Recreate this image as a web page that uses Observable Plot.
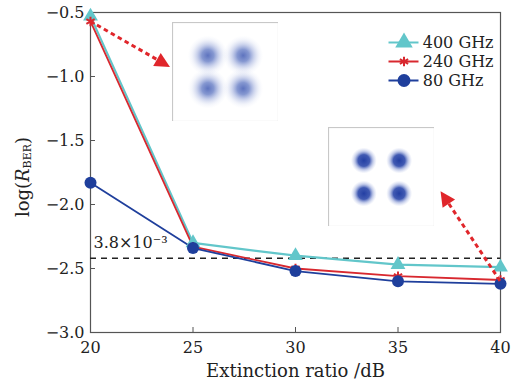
<!DOCTYPE html>
<html><head><meta charset="utf-8">
<script src="https://cdn.jsdelivr.net/npm/d3@7"></script>
<script src="https://cdn.jsdelivr.net/npm/@observablehq/plot@0.6"></script>
<style>
body{margin:0;background:#fff;}
#wrap{position:relative;width:513px;height:383px;font-family:"DejaVu Serif",serif;}
.ov{position:absolute;}
</style></head><body><div id="wrap"></div>
<script>
// ---- data ----
const ratio = [20, 25, 30, 35, 40];
const series = ["400 GHz", "240 GHz", "80 GHz"];
const ber400 = [-0.53, -2.30, -2.40, -2.47, -2.49];
const ber240 = [-0.57, -2.33, -2.50, -2.56, -2.59];
const ber80  = [-1.83, -2.34, -2.52, -2.60, -2.62];
const threshold = Math.log10(3.8e-3);
const thresholdLabel = "3.8×10⁻³";
const xTicks = [20, 25, 30, 35, 40];
const yTicks = [-3.0, -2.5, -2.0, -1.5, -1.0, -0.5];
const colors = ["#62c6ca", "#d8282f", "#1f3f9c"];
const symbols = ["triangle", "asterisk", "circle"];
// annotation arrows (data units): from measured point to arrow tip near inset
const arrowFromX = [20, 40];
const arrowFromY = [-0.57, -2.60];
const arrowToX = [23.9, 37.1];
const arrowToY = [-0.93, -1.90];
// constellation cluster centres (I/Q)
const constI = [-1, 1, -1, 1];
const constQ = [1, 1, -1, -1];

const values = [ber400, ber240, ber80];
const rows = [];
values.forEach((arr, i) => arr.forEach((v, j) => rows.push({series: series[i], x: ratio[j], y: v})));
const arrows = arrowFromX.map((_, i) => ({x1: arrowFromX[i], y1: arrowFromY[i], x2: arrowToX[i], y2: arrowToY[i]}));

const wrap = document.getElementById("wrap");
const arrowColor = "#e0262b";

const main = Plot.plot({
  width: 513, height: 383,
  marginLeft: 90, marginRight: 13, marginTop: 12, marginBottom: 51,
  style: {fontFamily: "DejaVu Serif, serif", fontSize: "16px", color: "#222", background: "transparent"},
  x: {domain: [20, 40], label: null},
  y: {domain: [-3, -0.5], label: null},
  marks: [
    Plot.axisX({ticks: xTicks, tickSize: 0, tickPadding: 9, fontSize: 16}),
    Plot.axisX({ticks: xTicks, tickSize: -5, text: null, stroke: "#555"}),
    Plot.axisY({ticks: yTicks, tickSize: 0, tickPadding: 6, tickFormat: d3.format(".1f"), fontSize: 16}),
    Plot.axisY({ticks: yTicks, tickSize: -5, text: null, stroke: "#555"}),
    Plot.frame({stroke: "#555", strokeWidth: 1.2}),
    Plot.ruleY([threshold], {stroke: "#222", strokeWidth: 1.6, strokeDasharray: "6,5"}),
    Plot.text([thresholdLabel], {frameAnchor: "left", y: [threshold], text: d => d, textAnchor: "start", dx: 3, dy: -15, fontSize: 16}),
    Plot.line(rows.filter(d => d.series === series[0]), {x: "x", y: "y", stroke: colors[0], strokeWidth: 2.2}),
    Plot.line(rows.filter(d => d.series === series[1]), {x: "x", y: "y", stroke: colors[1], strokeWidth: 1.8}),
    Plot.line(rows.filter(d => d.series === series[2]), {x: "x", y: "y", stroke: colors[2], strokeWidth: 1.8}),
    Plot.dot(rows.filter(d => d.series === series[0]), {x: "x", y: "y", symbol: symbols[0], fill: colors[0], r: 5.5}),
    Plot.dot(rows.filter(d => d.series === series[1]), {x: "x", y: "y", symbol: symbols[1], stroke: colors[1], strokeWidth: 2, r: 4.5}),
    Plot.dot(rows.filter(d => d.series === series[2]), {x: "x", y: "y", symbol: symbols[2], fill: colors[2], r: 6}),
    // dashed arrows with filled triangular heads, positioned through the plot scales
    (index, scales) => {
      const g = d3.create("svg:g");
      arrows.forEach(a => {
        const x1 = scales.x(a.x1), y1 = scales.y(a.y1), x2 = scales.x(a.x2), y2 = scales.y(a.y2);
        const L = Math.hypot(x2 - x1, y2 - y1), ux = (x2 - x1) / L, uy = (y2 - y1) / L;
        const len = 15, hw = 7.5;
        const bx = x2 - ux * len, by = y2 - uy * len;
        g.append("line").attr("x1", x1).attr("y1", y1).attr("x2", bx + ux * 2).attr("y2", by + uy * 2)
          .attr("stroke", arrowColor).attr("stroke-width", 3).attr("stroke-dasharray", "4.5,3.5");
        g.append("path").attr("d", `M${x2},${y2}L${bx - uy * hw},${by + ux * hw}L${bx + uy * hw},${by - ux * hw}Z`)
          .attr("fill", arrowColor);
      });
      return g.node();
    },
    Plot.text(["Extinction ratio /dB"], {frameAnchor: "bottom", text: d => d, dy: 44, fontSize: 18, fill: "#222"}),
    (index, scales, vals, dim) => {
      const t = d3.create("svg:text")
        .attr("transform", `translate(24,${(dim.marginTop + dim.height - dim.marginBottom) / 2 + 5}) rotate(-90)`)
        .attr("text-anchor", "middle").attr("dominant-baseline", "middle")
        .attr("font-size", 18).attr("fill", "#222");
      t.append("tspan").text("log(");
      t.append("tspan").attr("font-style", "italic").text("R");
      t.append("tspan").attr("font-size", 11).attr("dy", 4).text("BER");
      t.append("tspan").attr("dy", -4).text(")");
      return t.node();
    }
  ]
});
wrap.appendChild(main);

// ---- legend ----
const legendRows = series.map((s, i) => ({s, color: colors[i], symbol: symbols[i]}));
const legend = Plot.plot({
  width: 125, height: 58, margin: 0, marginTop: 10, marginBottom: 10,
  style: {fontFamily: "DejaVu Serif, serif", background: "transparent"},
  x: {domain: [0, 1], axis: null},
  y: {domain: series, type: "point", padding: 0, axis: null},
  marks: [
    Plot.ruleY(legendRows, {y: "s", x1: 0.02, x2: 0.26, stroke: "color", strokeWidth: 2}),
    Plot.dot(legendRows.filter((d, i) => i !== 1), {y: "s", x: 0.14, symbol: "symbol", fill: "color", r: 6.5}),
    Plot.dot(legendRows.filter((d, i) => i === 1), {y: "s", x: 0.14, symbol: "symbol", stroke: "color", strokeWidth: 2, r: 4.5}),
    Plot.text(legendRows, {y: "s", x: 0.29, text: "s", textAnchor: "start", fontSize: 16, fill: "#222"})
  ]
});
legend.classList.add("ov");
legend.style.left = "386px"; legend.style.top = "32px";
wrap.appendChild(legend);

// ---- constellation insets ----
function inset(id, left, top, cloudR, stops) {
  const cl = constI.map((d, i) => ({i: constI[i], q: constQ[i]}));
  const p = Plot.plot({
    width: 106, height: 99, margin: 0,
    style: {background: "#fff"},
    x: {domain: [-3, 3], axis: null},
    y: {domain: [-3, 3], axis: null},
    marks: [
      () => {
        const defs = d3.create("svg:defs");
        const g = defs.append("radialGradient").attr("id", id);
        stops.forEach(s => g.append("stop").attr("offset", s[0]).attr("stop-color", s[1]).attr("stop-opacity", s[2]));
        return defs.node();
      },
      Plot.frame({stroke: "#c8c8c8", strokeWidth: 1.2}),
      Plot.dot(cl, {x: "i", y: "q", r: cloudR, fill: `url(#${id})`})
    ]
  });
  p.classList.add("ov");
  p.style.left = left + "px"; p.style.top = top + "px";
  wrap.appendChild(p);
}
inset("c1", 172, 22, 20, [[0, "#3550ae", 0.8], [0.3, "#4460b8", 0.65], [0.55, "#6a80c9", 0.35], [0.8, "#9aaadc", 0.12], [1, "#c0cbee", 0]]);
inset("c2", 328, 127, 13, [[0, "#233fa3", 1], [0.45, "#2c48aa", 0.9], [0.7, "#5a72c3", 0.4], [1, "#9eade0", 0]]);
</script></body></html>
